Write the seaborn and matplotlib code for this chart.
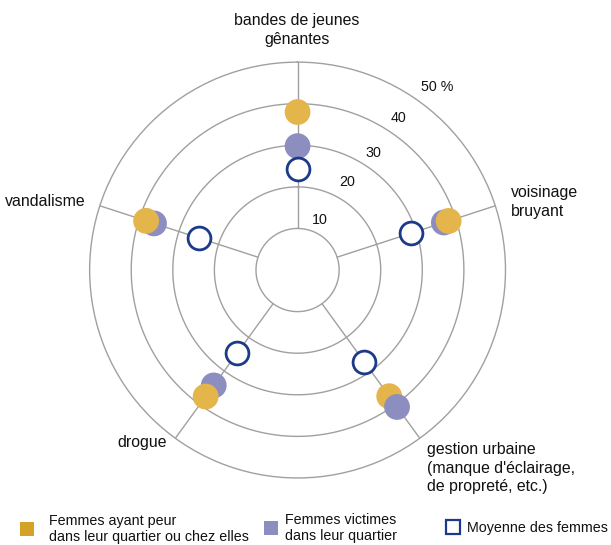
import numpy as np
import pandas as pd
import matplotlib
matplotlib.use("Agg")
import matplotlib.pyplot as plt
from matplotlib.patches import Rectangle
import seaborn as sns

# categories, clockwise from the top
categories = ["bandes de jeunes\ngênantes", "voisinage\nbruyant",
              "gestion urbaine\n(manque d'éclairage,\nde propreté, etc.)",
              "drogue", "vandalisme"]
peur = [38.0, 38.2, 37.5, 37.6, 38.3]        # Femmes ayant peur
victimes = [29.8, 37.0, 40.7, 34.3, 36.3]    # Femmes victimes
moyenne = [24.2, 28.8, 27.3, 24.7, 24.9]     # Moyenne des femmes
rings = [10, 20, 30, 40, 50]
ring_labels = ["10", "20", "30", "40", "50 %"]
legend_labels = ["Femmes ayant peur\ndans leur quartier ou chez elles",
                 "Femmes victimes\ndans leur quartier",
                 "Moyenne des femmes"]

YELLOW = "#e3b54b"
PURPLE = "#8d8ec0"
NAVY = "#1c3a8a"
GRID = "#a0a0a0"

sns.set_style("white")
plt.rcParams['font.family'] = ['Liberation Sans', 'DejaVu Sans']
plt.rcParams['text.color'] = '#111111'

fig = plt.figure(figsize=(6.11, 5.45), dpi=100)
ax = fig.add_axes([0.1465, 0.123, 0.681, 0.763], projection='polar')
ax.set_theta_zero_location('N')
ax.set_theta_direction(-1)
ax.set_ylim(0, 50)
ax.set_xticks([])
ax.set_yticks([])
ax.grid(False)
ax.spines['polar'].set_color(GRID)
ax.spines['polar'].set_linewidth(1.0)

theta = np.arange(len(categories)) * 2 * np.pi / len(categories)

# rings and spokes
circ = np.linspace(0, 2 * np.pi, 400)
for r in rings[:-1]:
    ax.plot(circ, np.full_like(circ, r), color=GRID, lw=1.0, zorder=1)
for t in theta:
    ax.plot([t, t], [rings[0], rings[-1]], color=GRID, lw=1.0, zorder=1)

# ring value labels
lab_theta = np.deg2rad([24.2, 29.4, 32.8, 33.5, 37.4])
lab_r = [13.2, 24.3, 33.5, 43.8, 55.4]
for t, r, s in zip(lab_theta, lab_r, ring_labels):
    ax.text(t, r, s, ha='center', va='center', fontsize=10.3, clip_on=False)

# filled dots: the larger value is drawn on top
df = pd.DataFrame({
    "theta": np.concatenate([theta, theta]),
    "value": peur + victimes,
    "serie": ["peur"] * len(theta) + ["victimes"] * len(theta),
}).sort_values("value")
sns.scatterplot(data=df, x="theta", y="value", hue="serie",
                palette={"peur": YELLOW, "victimes": PURPLE},
                s=345, linewidth=0, legend=False, ax=ax, zorder=3)
sns.scatterplot(x=theta, y=moyenne, s=270, color="white", edgecolor=NAVY,
                linewidth=2.0, legend=False, ax=ax, zorder=4)
ax.set_xlabel("")
ax.set_ylabel("")

# category labels
W, H = 611, 545
fs = 11.4
ls = 1.28
fig.text(297 / W, 1 - 30 / H, categories[0], ha='center', va='center',
         fontsize=fs, linespacing=ls)
fig.text(511 / W, 1 - 202 / H, categories[1], ha='left', va='center',
         fontsize=fs, linespacing=ls)
fig.text(427 / W, 1 - 468 / H, categories[2], ha='left', va='center',
         fontsize=fs, linespacing=ls)
fig.text(117 / W, 1 - 443 / H, categories[3], ha='left', va='center',
         fontsize=fs)
fig.text(86 / W, 1 - 201 / H, categories[4], ha='right', va='center',
         fontsize=fs)

# legend
sq = 14
lfs = 10.3
fig.add_artist(Rectangle((20 / W, 1 - 536 / H), sq / W, sq / H,
                         transform=fig.transFigure, color="#d4a224", lw=0))
fig.text(49 / W, 1 - 529 / H, legend_labels[0], ha='left', va='center',
         fontsize=lfs, linespacing=1.2)
fig.add_artist(Rectangle((264 / W, 1 - 535 / H), sq / W, sq / H,
                         transform=fig.transFigure, color=PURPLE, lw=0))
fig.text(285 / W, 1 - 528 / H, legend_labels[1], ha='left', va='center',
         fontsize=lfs, linespacing=1.2)
fig.add_artist(Rectangle((446 / W, 1 - 534 / H), sq / W, sq / H,
                         transform=fig.transFigure, facecolor="white",
                         edgecolor=NAVY, lw=1.6))
fig.text(467 / W, 1 - 528 / H, legend_labels[2], ha='left', va='center',
         fontsize=lfs)

fig.savefig("out.png", dpi=100)
